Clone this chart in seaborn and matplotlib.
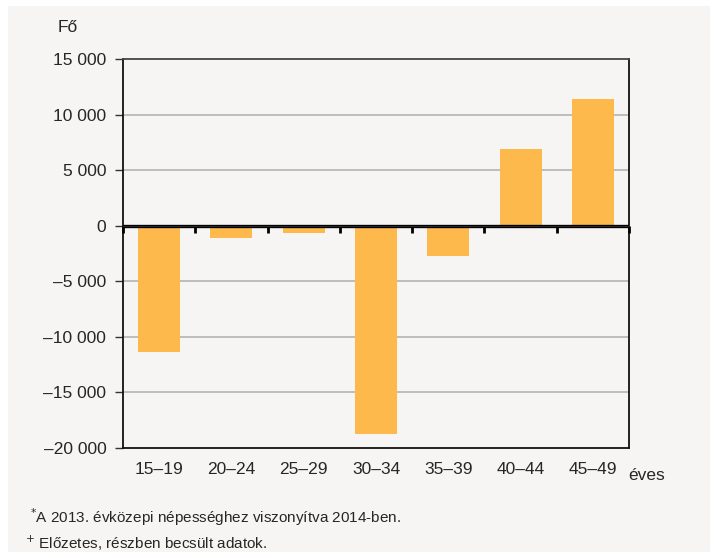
import matplotlib
matplotlib.use("Agg")
import matplotlib.pyplot as plt
import seaborn as sns
import pandas as pd
from matplotlib.patches import Rectangle

# adatok (leolvasva az ábráról)
korcsoportok = ["15–19", "20–24", "25–29", "30–34", "35–39", "40–44", "45–49"]
valtozas = [-11400, -1150, -700, -18700, -2700, 6900, 11400]
y_ticks = [-20000, -15000, -10000, -5000, 0, 5000, 10000, 15000]

def fmt(v):
    s = f"{abs(v):,}".replace(",", " ")
    return ("–" + s) if v < 0 else s

df = pd.DataFrame({"kor": korcsoportok, "fo": valtozas})

sns.set_style("white")
plt.rcParams["font.family"] = ["Liberation Sans Narrow", "Liberation Sans", "DejaVu Sans"]

fig = plt.figure(figsize=(7.16, 5.58), dpi=100, facecolor="white")
fig.patches.append(Rectangle((8 / 716, 6 / 558), 702 / 716, 546 / 558,
                             transform=fig.transFigure, facecolor="#f6f5f3",
                             edgecolor="none", zorder=-1))
ax = fig.add_axes([123 / 716, 1 - 448 / 558, 506 / 716, 389 / 558])
ax.set_facecolor("#f6f5f3")

sns.barplot(data=df, x="kor", y="fo", order=korcsoportok, color="#fdb94b",
            width=0.58, saturation=1, edgecolor="none", linewidth=0, ax=ax, zorder=3)

ax.set_ylim(-20000, 15000)
ax.set_xlim(-0.5, len(korcsoportok) - 0.5)
ax.set_yticks(y_ticks)
ax.set_yticklabels([fmt(v) for v in y_ticks], fontsize=12.5)
ax.set_xticks(range(len(korcsoportok)))
ax.set_xticklabels(korcsoportok, fontsize=12.5)
ax.tick_params(axis="x", length=0, pad=10)
ax.tick_params(axis="y", direction="out", length=6, width=1, color="#333333", pad=6, left=True)
ax.set_xlabel("")
ax.set_ylabel("")

for v in y_ticks:
    if v not in (0, 15000, -20000):
        ax.axhline(v, color="#b4b4b4", lw=1.2, zorder=1)

for side in ["left", "right", "top", "bottom"]:
    ax.spines[side].set_visible(True)
    ax.spines[side].set_color("#111111")
    ax.spines[side].set_linewidth(1.3)
ax.spines["top"].set_color("#444444")

# nulla vonal a kategóriahatárokon lévő osztásokkal
ax.axhline(0, color="black", lw=2.4, zorder=5)
zero_pos = (0 - y_ticks[0]) / (y_ticks[-1] - y_ticks[0])
sec = ax.secondary_xaxis(zero_pos)
sec.set_zorder(6)
sec.set_xticks([i - 0.5 for i in range(len(korcsoportok) + 1)])
sec.set_xticklabels([])
sec.tick_params(direction="in", length=5, width=2, color="black")
sec.spines["bottom"].set_linewidth(2.4)
sec.spines["bottom"].set_color("black")

fig.text(58 / 716, 1 - 28 / 558, "Fő", fontsize=12.5, va="center", ha="left")
fig.text(628 / 716, 1 - 476 / 558, "éves", fontsize=12.5, va="center", ha="left")
fig.text(30 / 716, 1 - 517 / 558, r"$^{*}$A 2013. évközepi népességhez viszonyítva 2014-ben.",
         fontsize=11, va="center", ha="left")
fig.text(25 / 716, 1 - 543 / 558, r"$^{+}$ Előzetes, részben becsült adatok.",
         fontsize=11, va="center", ha="left")

fig.savefig("out.png", dpi=100, facecolor="white")
